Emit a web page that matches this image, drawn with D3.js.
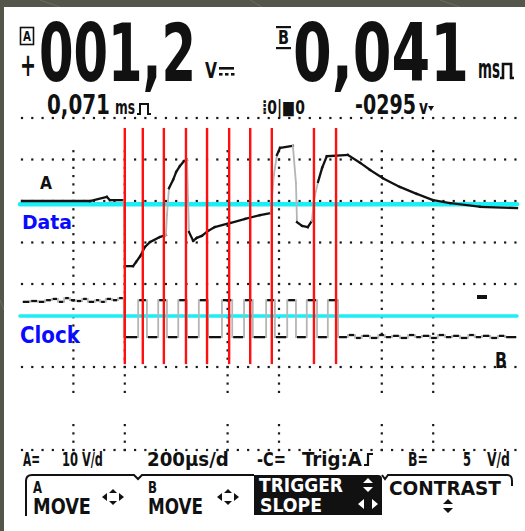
<!DOCTYPE html>
<html><head><meta charset="utf-8">
<script src="https://cdn.jsdelivr.net/npm/d3@7/dist/d3.min.js"></script>
<style>html,body{margin:0;padding:0;background:#55564a;overflow:hidden}</style>
</head><body><svg id="c" width="525" height="531"></svg>
<script>
// ---------- data (time in divisions, level in divisions) ----------
const cursorT = [2.00, 2.35, 2.76, 3.19, 3.60, 4.03, 4.44, 4.86, 5.68, 6.11];

const traceAT = [0.00,1.32,1.65,1.71,1.98,2.00,2.16,2.22,2.30,2.39,2.49,2.68,2.80,2.82,2.86,2.94,3.00,3.07,3.15,3.21,3.23,3.25,3.33,3.40,3.50,3.62,3.75,4.05,4.34,4.63,4.84,4.90,4.96,5.02,5.27,5.33,5.35,5.45,5.56,5.64,5.68,5.76,5.84,5.93,6.34,6.58,6.77,7.02,7.35,7.68,8.00,8.33,8.91,9.63];
const traceAV = [6.00,6.00,6.10,6.02,6.02,4.43,4.43,4.53,4.67,4.89,5.01,5.13,5.18,5.66,6.31,6.51,6.70,6.84,6.96,6.99,6.07,5.25,5.04,5.11,5.16,5.28,5.37,5.47,5.57,5.66,5.71,6.63,7.11,7.28,7.33,6.43,5.49,5.40,5.37,5.52,6.02,6.46,6.80,7.08,7.11,6.92,6.75,6.55,6.34,6.17,6.02,5.95,5.86,5.83];

const clockT = [0.00,0.16,0.31,0.45,0.58,0.70,0.82,0.93,1.05,1.17,1.28,1.42,1.52,1.63,1.75,1.87,
  1.98,2.26,2.43,2.65,2.82,3.04,3.21,3.44,3.62,3.89,4.09,4.32,4.49,4.75,4.92,5.16,5.33,5.54,5.74,5.95,6.15,
  6.34,6.48,6.61,6.77,6.93,7.06,7.20,7.35,7.51,7.65,7.78,7.94,8.09,8.23,8.37,8.52,8.68,8.81,8.95,9.11,9.26,9.40,9.63];
const clockV = [3.57,3.59,3.57,3.61,3.64,3.57,3.66,3.61,3.59,3.64,3.57,3.61,3.57,3.64,3.61,3.66,
  2.72,3.61,2.72,3.61,2.72,3.61,2.72,3.61,2.72,3.61,2.72,3.61,2.72,3.61,2.72,3.61,2.72,3.61,2.72,3.61,2.72,
  2.77,2.70,2.75,2.70,2.77,2.72,2.75,2.70,2.77,2.72,2.75,2.70,2.77,2.72,2.75,2.70,2.77,2.72,2.75,2.70,2.75,2.72,2.72];

const thresholdNames = ["Data", "Clock"];
const thresholdLevels = [5.92, 3.23];

const gridRows = [8, 7, 6, 5, 4, 2, 0];
const gridCols = [1, 2, 4, 5, 7, 8];

const readA = "001,2", readASign = "+", readAUnit = "V";
const readB = "0,041", readBUnit = "ms";
const sub1 = "0,071", sub1Unit = "ms", subIcon = "⁞0|■0", sub2 = "-0295", sub2Unit = "v";
const statusTexts = ["A=", "10", "V/d", "200µs/d", "-C=", "Trig:A", "B=", "5", "V/d"];
const keyTop = ["A", "B", "TRIGGER", "CONTRAST"];
const keyBottom = ["MOVE", "MOVE", "SLOPE"];

// ---------- drawing ----------
const svg = d3.select("#c");
const LCD = "'Liberation Sans Narrow','DejaVu Sans Condensed','Arial Narrow',sans-serif";
const CAP = 0.70;
const x = d3.scaleLinear().domain([0, 10]).range([22, 536]);
const y = d3.scaleLinear().domain([0, 8]).range([450, 118]);

svg.append("rect").attr("width", 525).attr("height", 531).attr("fill", "#55564a");
const bg = svg.append("g").attr("stroke", "#6b6c5e").attr("stroke-width", 1).attr("fill", "none");
bg.append("line").attr("x1", 40).attr("y1", 0).attr("x2", 60).attr("y2", 7);
bg.append("line").attr("x1", 250).attr("y1", 0).attr("x2", 262).attr("y2", 7);
bg.append("line").attr("x1", 440).attr("y1", 0).attr("x2", 460).attr("y2", 7);
bg.append("line").attr("x1", 0).attr("y1", 300).attr("x2", 4).attr("y2", 310);

svg.append("rect").attr("x", 4).attr("y", 7).attr("width", 521).attr("height", 524).attr("fill", "#ffffff");

// grid dots
const gg = svg.append("g").attr("fill", "#1a1a1a");
const dx = (x(1) - x(0)) / 5, dy = (y(0) - y(1)) / 5;
gridRows.forEach(r => {
  for (let px = x(0); px <= 518; px += dx) {
    gg.append("rect").attr("x", px - 1.1).attr("y", y(r) - 1.1).attr("width", 2.2).attr("height", 2.2);
  }
});
gridCols.forEach(c => {
  for (let k = 0; k <= 36; k++) {
    const py = y(0) - k * dy;
    const v = y.invert(py);
    if (v > 7.2) continue;
    if (v > 0.6 && v < 1.4) continue;
    gg.append("rect").attr("x", x(c) - 1.1).attr("y", py - 1.1).attr("width", 2.2).attr("height", 2.2);
  }
});

// threshold (cyan) lines
svg.append("g").selectAll("line").data(thresholdLevels).join("line")
  .attr("x1", 20).attr("x2", 517)
  .attr("y1", d => y(d)).attr("y2", d => y(d))
  .attr("stroke", "#1aeef6").attr("stroke-width", (d, i) => i === 0 ? 4.5 : 3.5)
  .attr("stroke-linecap", "round");

// trace A
const ptsA = traceAT.map((t, i) => [x(t), y(traceAV[i])]);
const segA = [];
for (let i = 0; i < ptsA.length - 1; i++) segA.push([ptsA[i], ptsA[i + 1]]);
const steep = d => Math.abs(d[1][1] - d[0][1]) > 4 * Math.abs(d[1][0] - d[0][0]);
svg.append("g").selectAll("line").data(segA).join("line")
  .attr("x1", d => d[0][0]).attr("y1", d => d[0][1]).attr("x2", d => d[1][0]).attr("y2", d => d[1][1])
  .attr("stroke", d => steep(d) ? "#b5b5b5" : "#111")
  .attr("stroke-width", d => steep(d) ? 1.8 : 2.3)
  .attr("stroke-linecap", "square");

// trace B (clock)
const ptsB = clockT.map((t, i) => [x(t), y(clockV[i])]);
svg.append("path").attr("d", d3.line().curve(d3.curveStepAfter)(ptsB))
  .attr("fill", "none").attr("stroke", "#b5b5b5").attr("stroke-width", 1.8);
const segB = [];
for (let i = 0; i < ptsB.length - 1; i++) segB.push([ptsB[i][0], ptsB[i + 1][0], ptsB[i][1]]);
svg.append("g").selectAll("line").data(segB).join("line")
  .attr("x1", d => d[0] + 1).attr("x2", d => d[1] - 1).attr("y1", d => d[2]).attr("y2", d => d[2])
  .attr("stroke", "#111").attr("stroke-width", 2.3);

// cursors (red)
svg.append("g").selectAll("line").data(cursorT).join("line")
  .attr("x1", d => x(d)).attr("x2", d => x(d))
  .attr("y1", y(7.76)).attr("y2", y(2.07))
  .attr("stroke", "#ff1010").attr("stroke-width", 2.4);

// text fitted to a box: natural width = w, stretched vertically to cap height
function fitText(s, x0, base, w, cap, fill) {
  const t = svg.append("text").attr("x", x0).attr("y", base).text(s)
    .attr("font-family", LCD).attr("font-weight", "bold").attr("font-size", 100)
    .attr("fill", fill || "#111");
  const len = t.node().getComputedTextLength();
  const fs = 100 * w / len;
  t.attr("font-size", fs.toFixed(2));
  const sy = cap / (CAP * fs);
  t.attr("transform", `matrix(1,0,0,${sy.toFixed(4)},0,${(base * (1 - sy)).toFixed(3)})`);
  return t;
}

// trace labels
fitText("A", 40, 189, 12, 12);
fitText("B", 495, 368, 12, 15);
svg.append("rect").attr("x", 477).attr("y", 295).attr("width", 10).attr("height", 4).attr("fill", "#111");
thresholdNames.forEach((n, i) => {
  if (i === 0) fitText(n, 22, y(thresholdLevels[i]) + 24.5, 50, 14, "#0a0aff");
  else fitText(n, 20, y(thresholdLevels[i]) + 27, 60, 16, "#0a0aff");
});

// ---------- readouts ----------
svg.append("rect").attr("x", 20.5).attr("y", 27.5).attr("width", 13).attr("height", 17)
  .attr("fill", "none").attr("stroke", "#111").attr("stroke-width", 1.6);
fitText("A", 23, 41, 8, 10);
fitText(readASign, 20, 76, 16, 22);
fitText(readA, 39, 81, 157, 56);
fitText(readAUnit, 205, 78, 12, 15);
svg.append("rect").attr("x", 219).attr("y", 67).attr("width", 15).attr("height", 2.6).attr("fill", "#111");
[219, 225, 231].forEach(p => svg.append("rect").attr("x", p).attr("y", 73).attr("width", 3.5).attr("height", 2.6).attr("fill", "#111"));
svg.append("rect").attr("x", 276).attr("y", 26).attr("width", 15).attr("height", 2.2).attr("fill", "#111");
fitText("B", 278, 44, 11, 13);
svg.append("rect").attr("x", 276).attr("y", 47).attr("width", 15).attr("height", 2.2).attr("fill", "#111");
fitText(readB, 293, 81, 176, 56);
fitText(readBUnit, 478, 78, 22, 19);
svg.append("path").attr("d", "M500,78 H503 V64 H511 V78 H514").attr("fill", "none").attr("stroke", "#111").attr("stroke-width", 2.6);

fitText(sub1, 47, 114, 63, 19);
fitText(sub1Unit, 115, 114, 20, 13);
svg.append("path").attr("d", "M137,114 H140 V104 H148 V114 H151").attr("fill", "none").attr("stroke", "#111").attr("stroke-width", 2);
fitText(subIcon, 262, 114, 43, 13);
fitText(sub2, 355, 114, 61, 19);
fitText(sub2Unit, 419, 114, 9, 13);
svg.append("path").attr("d", "M428,106 L434,106 L431,111 Z").attr("fill", "#111");

// ---------- status line ----------
const stX = [23, 62, 82, 147, 257, 302, 408, 463, 487];
const stW = [17, 16, 21, 82, 29, 60, 20, 8, 23];
statusTexts.forEach((s, i) => fitText(s, stX[i], 466, stW[i], 13));
svg.append("path").attr("d", "M364,465 H368 V454 H373").attr("fill", "none").attr("stroke", "#111").attr("stroke-width", 2.2);

// ---------- soft-key tabs ----------
svg.append("path")
  .attr("d", "M26,516 V481 Q26,475 32,475 H134 L138,479 L142,475 H254 M382,475 L385,479 L388,475 H507 Q512,475 512,481 V486")
  .attr("fill", "none").attr("stroke", "#111").attr("stroke-width", 2);
svg.append("path").attr("d", "M254,475 H378 Q382,475 382,479 V515 H254 Z").attr("fill", "#111");

fitText(keyTop[0], 33, 493, 9, 11);
fitText(keyBottom[0], 33, 514, 58, 15);
fitText(keyTop[1], 148, 493, 9, 11);
fitText(keyBottom[1], 148, 514, 55, 15);
fitText(keyTop[2], 259, 492, 84, 14, "#fff");
fitText(keyBottom[2], 260, 512, 62, 14, "#fff");
fitText(keyTop[3], 389, 495, 112, 14);

function arrows4(cx, cy, col) {
  const g = svg.append("g").attr("fill", col);
  g.append("path").attr("d", `M${cx-11},${cy} l5,-4 v8 Z`);
  g.append("path").attr("d", `M${cx+11},${cy} l-5,-4 v8 Z`);
  g.append("path").attr("d", `M${cx},${cy-8} l-4,4 h8 Z`);
  g.append("path").attr("d", `M${cx},${cy+8} l-4,-4 h8 Z`);
}
arrows4(113, 497, "#111");
arrows4(228, 497, "#111");
svg.append("path").attr("d", "M368,478 l-5,5 h10 Z M368,492 l-5,-5 h10 Z").attr("fill", "#fff");
svg.append("path").attr("d", "M358,504 l6,-5 v10 Z M378,504 l-6,-5 v10 Z").attr("fill", "#fff");
svg.append("path").attr("d", "M448,499 l-5,5 h10 Z M448,513 l-5,-5 h10 Z").attr("fill", "#111");
</script></body></html>
